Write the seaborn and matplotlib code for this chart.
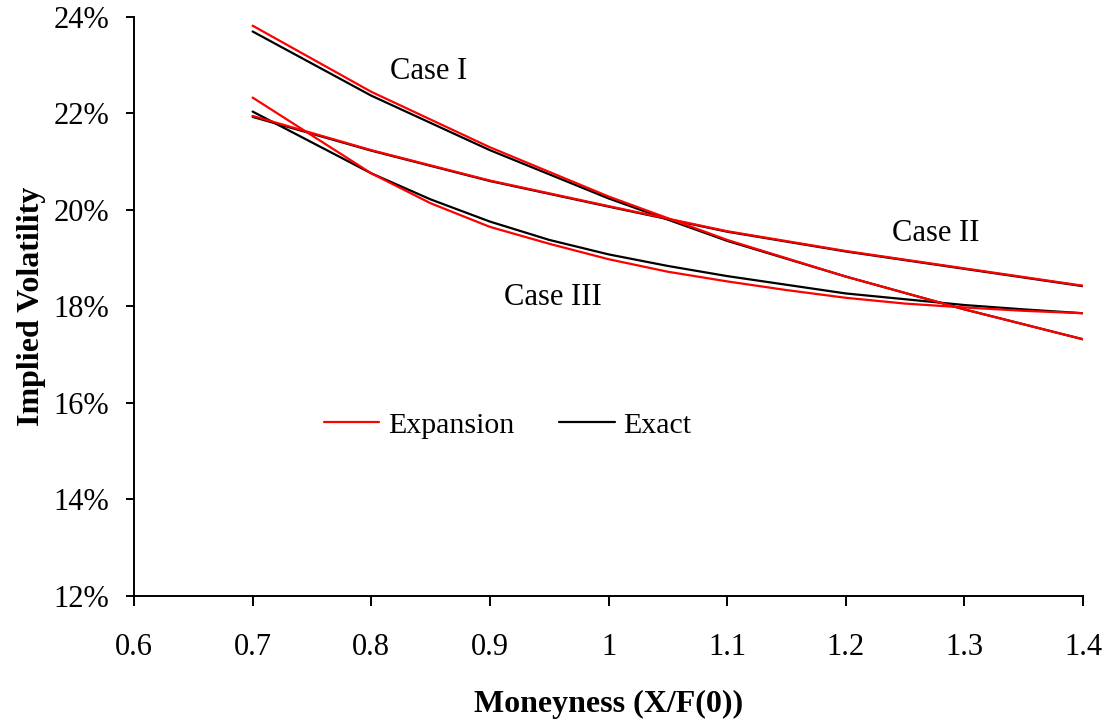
import matplotlib
matplotlib.use("Agg")
import matplotlib.pyplot as plt
from matplotlib.lines import Line2D
from matplotlib.ticker import FuncFormatter, MultipleLocator
import pandas as pd
import seaborn as sns

# Moneyness grids and implied volatilities (percent)
moneyness = [0.7, 0.8, 0.9, 1.0, 1.1, 1.2, 1.3, 1.4]
moneyness_fine = [0.7, 0.8, 0.85, 0.9, 0.95, 1.0, 1.05, 1.1,
                  1.15, 1.2, 1.25, 1.3, 1.35, 1.4]

case1_expansion = [23.82, 22.45, 21.30, 20.28, 19.38, 18.62, 17.94, 17.32]
case1_exact = [23.70, 22.37, 21.24, 20.24, 19.36, 18.62, 17.94, 17.32]
case2_expansion = [21.95, 21.24, 20.61, 20.08, 19.56, 19.15, 18.79, 18.43]
case2_exact = [21.93, 21.23, 20.60, 20.07, 19.55, 19.14, 18.78, 18.42]
case3_expansion = [22.33, 20.76, 20.14, 19.65, 19.30, 18.98, 18.72, 18.52,
                   18.34, 18.18, 18.06, 17.98, 17.91, 17.86]
case3_exact = [22.04, 20.76, 20.22, 19.76, 19.38, 19.08, 18.84, 18.63,
               18.45, 18.27, 18.15, 18.03, 17.94, 17.86]

# drawn in this order: exact curves first, expansions on top
series = [
    ("Exact", moneyness, case1_exact),
    ("Exact", moneyness, case2_exact),
    ("Exact", moneyness_fine, case3_exact),
    ("Expansion", moneyness, case1_expansion),
    ("Expansion", moneyness, case2_expansion),
    ("Expansion", moneyness_fine, case3_expansion),
]

case_labels = ["Case I", "Case II", "Case III"]
case_label_x = [0.848, 1.276, 0.953]
case_label_y = [22.86, 19.52, 18.18]

colors = {"Expansion": "#ff0000", "Exact": "#000000"}

sns.set_theme(style="white")
plt.rcParams["font.family"] = ["Liberation Serif", "DejaVu Serif"]
plt.rcParams["text.color"] = "black"
plt.rcParams["axes.labelcolor"] = "black"

fig = plt.figure(figsize=(11.09, 7.23), dpi=100)
ax = fig.add_axes([0.1208, 0.1757, 0.8558, 0.8008])

for method, xs, ys in series:
    df = pd.DataFrame({"x": xs, "y": ys})
    sns.lineplot(data=df, x="x", y="y", ax=ax, color=colors[method],
                 linewidth=1.6, sort=False, estimator=None)

for lab, lx, ly in zip(case_labels, case_label_x, case_label_y):
    ax.text(lx, ly, lab, fontsize=22, ha="center", va="center", color="black")

ax.set_xlim(0.6, 1.4)
ax.set_ylim(12, 24)
ax.xaxis.set_major_locator(MultipleLocator(0.1))
ax.yaxis.set_major_locator(MultipleLocator(2))
ax.xaxis.set_major_formatter(FuncFormatter(lambda v, p: f"{v:g}"))
ax.yaxis.set_major_formatter(FuncFormatter(lambda v, p: f"{v:.0f}%"))

for s in ["top", "right"]:
    ax.spines[s].set_visible(False)
for s in ["left", "bottom"]:
    ax.spines[s].set_color("black")
    ax.spines[s].set_linewidth(1.4)

ax.tick_params(axis="both", which="major", labelsize=22, colors="black",
               direction="out", width=1.4, bottom=True, left=True)
ax.tick_params(axis="x", length=7, pad=20)
ax.tick_params(axis="y", length=6, pad=12)
ax.grid(False)

ax.set_xlabel("Moneyness (X/F(0))", fontsize=23, fontweight="bold", labelpad=20)
ax.set_ylabel("Implied Volatility", fontsize=23, fontweight="bold", labelpad=5)

handles = [Line2D([], [], color=colors["Expansion"], linewidth=1.6),
           Line2D([], [], color=colors["Exact"], linewidth=1.6)]
ax.legend(handles, ["Expansion", "Exact"], loc="center",
          bbox_to_anchor=(0.394, 0.295), ncol=2, frameon=False, fontsize=21.5,
          handlelength=1.85, handletextpad=0.3, columnspacing=1.5,
          labelcolor="black")

fig.savefig("out.png", dpi=100, facecolor="white")
